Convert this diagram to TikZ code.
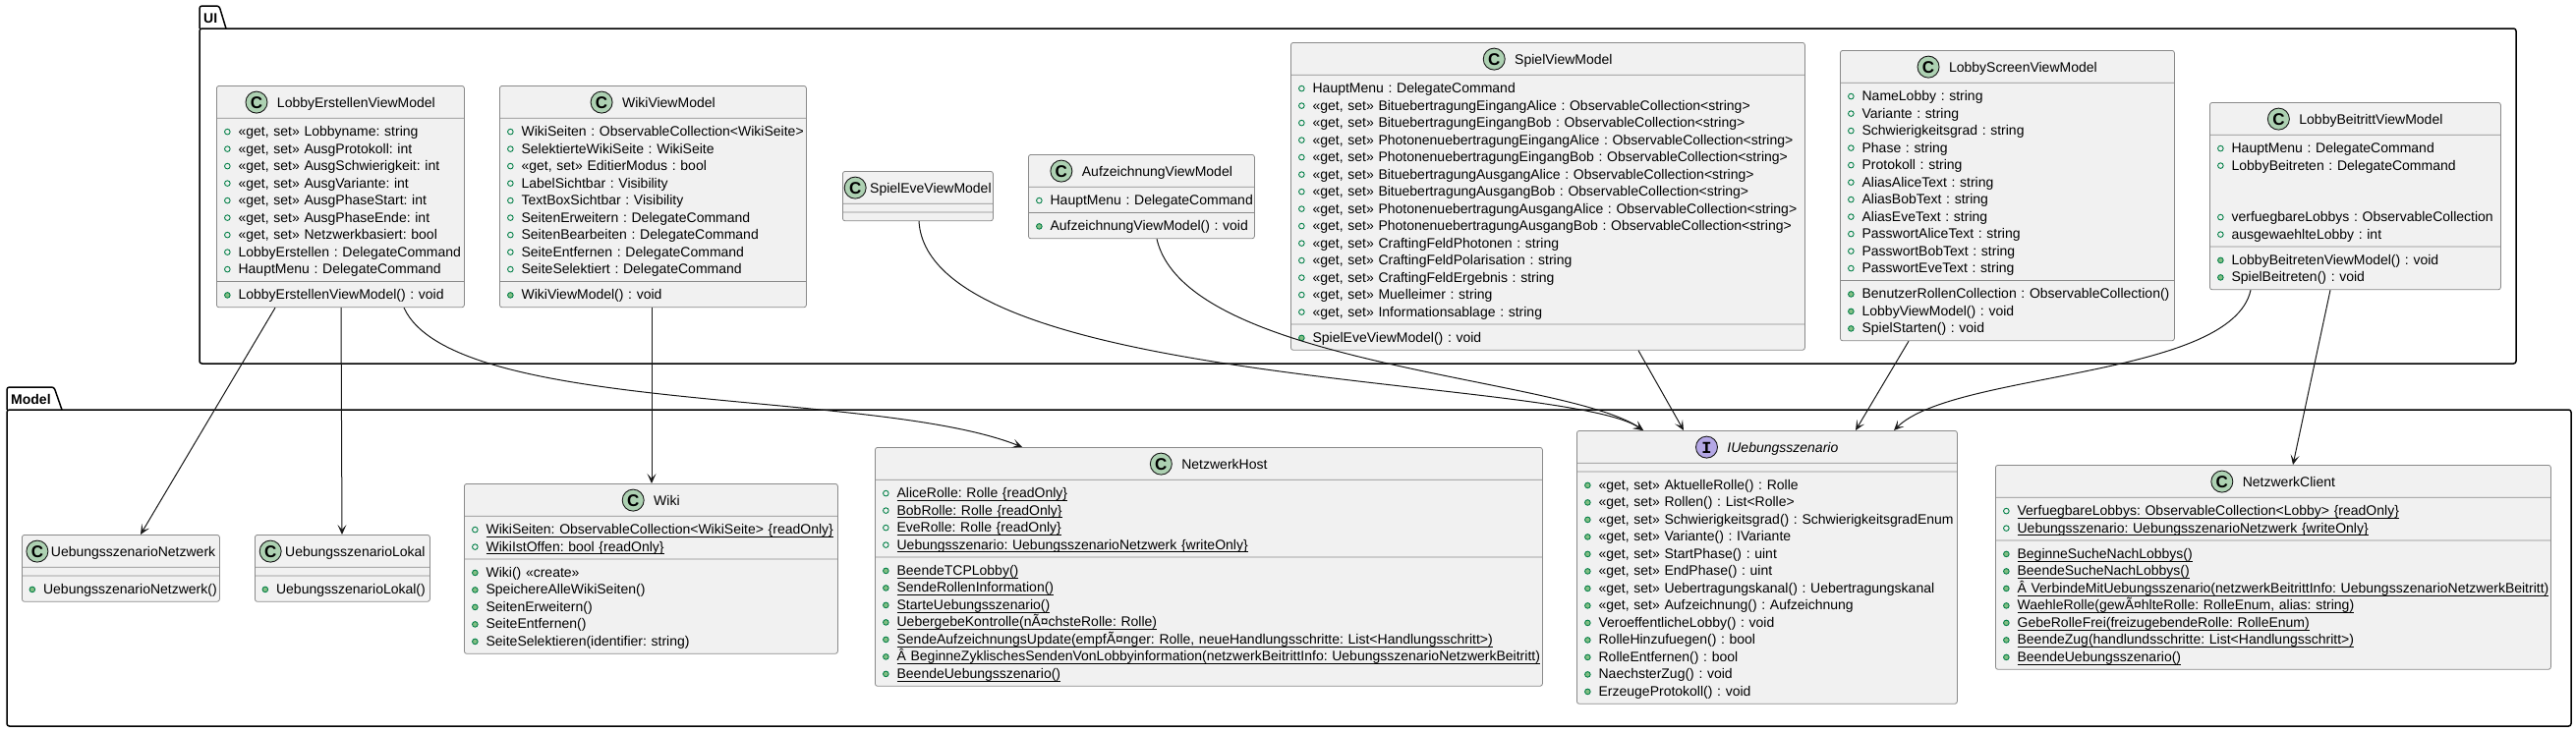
\documentclass[tikz,border=0pt]{standalone}
\usepackage{fontspec}
\setmainfont{Liberation Sans}
\newfontfamily\iconfont{Liberation Mono}
\usetikzlibrary{shapes.multipart,arrows.meta}

\definecolor{clsfill}{HTML}{F1F1F1}
\definecolor{clsline}{HTML}{8A8A8A}
\definecolor{mkline}{HTML}{038048}
\definecolor{mkfill}{HTML}{84BE84}
\definecolor{iconC}{HTML}{ADD1B2}
\definecolor{iconI}{HTML}{B4A7E5}
\definecolor{edge}{HTML}{181818}

\newcommand{\rowstrut}{\baselineskip=17.5pt\lineskip=0pt\rule[-3.5pt]{0pt}{17.5pt}}
\newcommand{\hdrstrut}{\rule[-6.7pt]{0pt}{24pt}}
\newcommand{\fld}[1]{\rowstrut\hspace*{2.7pt}\tikz[baseline=-4.5pt]\draw[mkline,line width=0.9pt] (0,0) circle (2.8pt);\hspace*{8pt}\mbox{#1}}
\newcommand{\mth}[1]{\rowstrut\hspace*{2.7pt}\tikz[baseline=-4.5pt]\filldraw[draw=mkline,fill=mkfill,line width=0.9pt] (0,0) circle (2.8pt);\hspace*{8pt}\mbox{#1}}
\newcommand{\stc}[1]{\setbox0\hbox{#1}\rlap{\rule[-3pt]{\wd0}{0.9pt}}\box0}
\newcommand{\hdr}[4][10pt]{\centering\hdrstrut\mbox{\makebox[22pt]{\tikz[baseline=-5pt]\filldraw[fill=#2,draw=edge,line width=0.9pt] (0,0) circle (11pt);}\hspace{-22pt}\makebox[22pt]{\raisebox{-1.1pt}{#3}}\hspace{#1}#4}\par}
\newcommand{\cC}{\bfseries\fontsize{17}{17}\selectfont C}
\newcommand{\cI}{\iconfont\bfseries\fontsize{17}{17}\selectfont I}

\begin{document}
\begin{tikzpicture}[x=1pt,y=-1pt,
  umlclass/.style={rectangle split, rectangle split parts=3, rectangle split ignore empty parts=false,
    draw=clsline, line width=0.8pt, fill=clsfill, rounded corners=2.5pt,
    inner xsep=5pt, inner ysep=4pt, anchor=north west, font=\fontsize{14}{17.5}\selectfont\frenchspacing},
  pkg/.style={draw=black, line width=1.5pt, rounded corners=2.5pt},
  pkgname/.style={anchor=base west, inner sep=0pt, font=\bfseries\fontsize{14}{17}\selectfont},
  assoc/.style={draw=edge, line width=1pt, -{Stealth[length=10pt,width=9pt,inset=5pt]}}]
\useasboundingbox[fill=white] (0,0) rectangle (2621,745);
%%\draw[help lines] (0,0) grid[step=100] (2621,745);

% packages
\draw[pkg] (203,29) -- (203,6) -- (223,6) -- (230,29);
\draw[pkg] (203,29) rectangle (2560,370);
\node[pkgname] (uiname) at (207,23.5) {UI};
\draw[pkg] (7,417) -- (7,394) -- (55,394) -- (63,417);
\draw[pkg] (7,417) rectangle (2616,739);
\node[pkgname] (modelname) at (11,411) {Model};

% UI
\node[umlclass, text width=242pt] (levm) at (220,87) {\hdr{iconC}{\cC}{LobbyErstellenViewModel}
  \nodepart{two}\fld{«get, set» Lobbyname: string}\\
  \fld{«get, set» AusgProtokoll: int}\\
  \fld{«get, set» AusgSchwierigkeit: int}\\
  \fld{«get, set» AusgVariante: int}\\
  \fld{«get, set» AusgPhaseStart: int}\\
  \fld{«get, set» AusgPhaseEnde: int}\\
  \fld{«get, set» Netzwerkbasiert: bool}\\
  \fld{LobbyErstellen : DelegateCommand}\\
  \fld{HauptMenu : DelegateCommand}
  \nodepart{three}\mth{LobbyErstellenViewModel() : void}};

\node[umlclass, text width=302pt] (wikivm) at (508,87) {\hdr{iconC}{\cC}{WikiViewModel}
  \nodepart{two}\fld{WikiSeiten : ObservableCollection<WikiSeite>}\\
  \fld{SelektierteWikiSeite : WikiSeite}\\
  \fld{«get, set» EditierModus : bool}\\
  \fld{LabelSichtbar : Visibility}\\
  \fld{TextBoxSichtbar : Visibility}\\
  \fld{SeitenErweitern : DelegateCommand}\\
  \fld{SeitenBearbeiten : DelegateCommand}\\
  \fld{SeiteEntfernen : DelegateCommand}\\
  \fld{SeiteSelektiert : DelegateCommand}
  \nodepart{three}\mth{WikiViewModel() : void}};

\node[umlclass, text width=150pt, inner xsep=1.5pt] (evevm) at (857,174) {\hdr[4pt]{iconC}{\cC}{SpielEveViewModel}
  \nodepart{two}\nodepart{three}};

\node[umlclass, text width=220pt] (aufzvm) at (1046,157) {\hdr{iconC}{\cC}{AufzeichnungViewModel}
  \nodepart{two}\fld{HauptMenu : DelegateCommand}
  \nodepart{three}\mth{AufzeichnungViewModel() : void}};

\node[umlclass, text width=513pt] (spielvm) at (1313,43) {\hdr{iconC}{\cC}{SpielViewModel}
  \nodepart{two}\fld{HauptMenu : DelegateCommand}\\
  \fld{«get, set» BituebertragungEingangAlice : ObservableCollection<string>}\\
  \fld{«get, set» BituebertragungEingangBob : ObservableCollection<string>}\\
  \fld{«get, set» PhotonenuebertragungEingangAlice : ObservableCollection<string>}\\
  \fld{«get, set» PhotonenuebertragungEingangBob : ObservableCollection<string>}\\
  \fld{«get, set» BituebertragungAusgangAlice : ObservableCollection<string>}\\
  \fld{«get, set» BituebertragungAusgangBob : ObservableCollection<string>}\\
  \fld{«get, set» PhotonenuebertragungAusgangAlice : ObservableCollection<string>}\\
  \fld{«get, set» PhotonenuebertragungAusgangBob : ObservableCollection<string>}\\
  \fld{«get, set» CraftingFeldPhotonen : string}\\
  \fld{«get, set» CraftingFeldPolarisation : string}\\
  \fld{«get, set» CraftingFeldErgebnis : string}\\
  \fld{«get, set» Muelleimer : string}\\
  \fld{«get, set» Informationsablage : string}
  \nodepart{three}\mth{SpielEveViewModel() : void}};

\node[umlclass, text width=330pt] (screenvm) at (1872,51) {\hdr{iconC}{\cC}{LobbyScreenViewModel}
  \nodepart{two}\fld{NameLobby : string}\\
  \fld{Variante : string}\\
  \fld{Schwierigkeitsgrad : string}\\
  \fld{Phase : string}\\
  \fld{Protokoll : string}\\
  \fld{AliasAliceText : string}\\
  \fld{AliasBobText : string}\\
  \fld{AliasEveText : string}\\
  \fld{PasswortAliceText : string}\\
  \fld{PasswortBobText : string}\\
  \fld{PasswortEveText : string}
  \nodepart{three}\mth{BenutzerRollenCollection : ObservableCollection()}\\
  \mth{LobbyViewModel() : void}\\
  \mth{SpielStarten() : void}};

\node[umlclass, text width=286pt] (beitrittvm) at (2248,104) {\hdr{iconC}{\cC}{LobbyBeitrittViewModel}
  \nodepart{two}\fld{HauptMenu : DelegateCommand}\\
  \fld{LobbyBeitreten : DelegateCommand}\\
  \rowstrut\\
  \rowstrut\\
  \fld{verfuegbareLobbys : ObservableCollection}\\
  \fld{ausgewaehlteLobby : int}
  \nodepart{three}\mth{LobbyBeitretenViewModel() : void}\\
  \mth{SpielBeitreten() : void}};

% Model
\node[umlclass, text width=192pt, inner xsep=4.5pt] (uenetz) at (22,544) {\hdr[3pt]{iconC}{\cC}{UebungsszenarioNetzwerk}
  \nodepart{two}\nodepart{three}\mth{UebungsszenarioNetzwerk()}};

\node[umlclass, text width=169pt, inner xsep=4.5pt] (uelokal) at (259,544) {\hdr[4pt]{iconC}{\cC}{UebungsszenarioLokal}
  \nodepart{two}\nodepart{three}\mth{UebungsszenarioLokal()}};

\node[umlclass, text width=370pt] (wiki) at (472,492) {\hdr{iconC}{\cC}{Wiki}
  \nodepart{two}\fld{\stc{WikiSeiten: ObservableCollection<WikiSeite> \{readOnly\}}}\\
  \fld{\stc{WikiIstOffen: bool \{readOnly\}}}
  \nodepart{three}\mth{Wiki() «create»}\\
  \mth{SpeichereAlleWikiSeiten()}\\
  \mth{SeitenErweitern()}\\
  \mth{SeiteEntfernen()}\\
  \mth{SeiteSelektieren(identifier: string)}};

\node[umlclass, text width=669pt] (host) at (890,455) {\hdr{iconC}{\cC}{NetzwerkHost}
  \nodepart{two}\fld{\stc{AliceRolle: Rolle \{readOnly\}}}\\
  \fld{\stc{BobRolle: Rolle \{readOnly\}}}\\
  \fld{\stc{EveRolle: Rolle \{readOnly\}}}\\
  \fld{\stc{Uebungsszenario: UebungsszenarioNetzwerk \{writeOnly\}}}
  \nodepart{three}\mth{\stc{BeendeTCPLobby()}}\\
  \mth{\stc{SendeRollenInformation()}}\\
  \mth{\stc{StarteUebungsszenario()}}\\
  \mth{\stc{UebergebeKontrolle(nÃ¤chsteRolle: Rolle)}}\\
  \mth{\stc{SendeAufzeichnungsUpdate(empfÃ¤nger: Rolle, neueHandlungsschritte: List<Handlungsschritt>)}}\\
  \mth{\stc{Â BeginneZyklischesSendenVonLobbyinformation(netzwerkBeitrittInfo: UebungsszenarioNetzwerkBeitritt)}}\\
  \mth{\stc{BeendeUebungsszenario()}}};

\node[umlclass, text width=377pt] (iszen) at (1604,438) {\hdr{iconI}{\cI}{\itshape IUebungsszenario}
  \nodepart{two}\nodepart{three}\mth{«get, set» AktuelleRolle() : Rolle}\\
  \mth{«get, set» Rollen() : List<Rolle>}\\
  \mth{«get, set» Schwierigkeitsgrad() : SchwierigkeitsgradEnum}\\
  \mth{«get, set» Variante() : IVariante}\\
  \mth{«get, set» StartPhase() : uint}\\
  \mth{«get, set» EndPhase() : uint}\\
  \mth{«get, set» Uebertragungskanal() : Uebertragungskanal}\\
  \mth{«get, set» Aufzeichnung() : Aufzeichnung}\\
  \mth{VeroeffentlicheLobby() : void}\\
  \mth{RolleHinzufuegen() : bool}\\
  \mth{RolleEntfernen() : bool}\\
  \mth{NaechsterZug() : void}\\
  \mth{ErzeugeProtokoll() : void}};

\node[umlclass, text width=555pt] (client) at (2030,473) {\hdr{iconC}{\cC}{NetzwerkClient}
  \nodepart{two}\fld{\stc{VerfuegbareLobbys: ObservableCollection<Lobby> \{readOnly\}}}\\
  \fld{\stc{Uebungsszenario: UebungsszenarioNetzwerk \{writeOnly\}}}
  \nodepart{three}\mth{\stc{BeginneSucheNachLobbys()}}\\
  \mth{\stc{BeendeSucheNachLobbys()}}\\
  \mth{\stc{Â VerbindeMitUebungsszenario(netzwerkBeitrittInfo: UebungsszenarioNetzwerkBeitritt)}}\\
  \mth{\stc{WaehleRolle(gewÃ¤hlteRolle: RolleEnum, alias: string)}}\\
  \mth{\stc{GebeRolleFrei(freizugebendeRolle: RolleEnum)}}\\
  \mth{\stc{BeendeZug(handlundsschritte: List<Handlungsschritt>)}}\\
  \mth{\stc{BeendeUebungsszenario()}}};

% connectors
\draw[assoc] ([xshift=60pt]levm.south west) -- ([xshift=121pt]uenetz.north west);
\draw[assoc] ([xshift=127pt]levm.south west) -- ([xshift=89pt]uelokal.north west);
\draw[assoc] ([xshift=191pt]levm.south west) .. controls +(50,110) and +(-150,-60) .. ([xshift=150pt]host.north west);
\draw[assoc] ([xshift=155pt]wikivm.south west) -- ([xshift=191pt]wiki.north west);
\draw[assoc] ([xshift=78pt]evevm.south west) .. controls +(10,170) and +(-80,-55) .. ([xshift=68pt]iszen.north west);
\draw[assoc] ([xshift=131pt]aufzvm.south west) .. controls +(30,130) and +(-80,-55) .. ([xshift=68pt]iszen.north west);
\draw[assoc] ([xshift=354pt]spielvm.south west) -- ([xshift=109pt]iszen.north west);
\draw[assoc] ([xshift=70pt]screenvm.south west) -- ([xshift=284pt]iszen.north west);
\draw[assoc] ([xshift=42pt]beitrittvm.south west) .. controls +(-20,90) and +(60,-60) .. ([xshift=323pt]iszen.north west);
\draw[assoc] ([xshift=123pt]beitrittvm.south west) -- ([xshift=303pt]client.north west);
\end{tikzpicture}
\end{document}
